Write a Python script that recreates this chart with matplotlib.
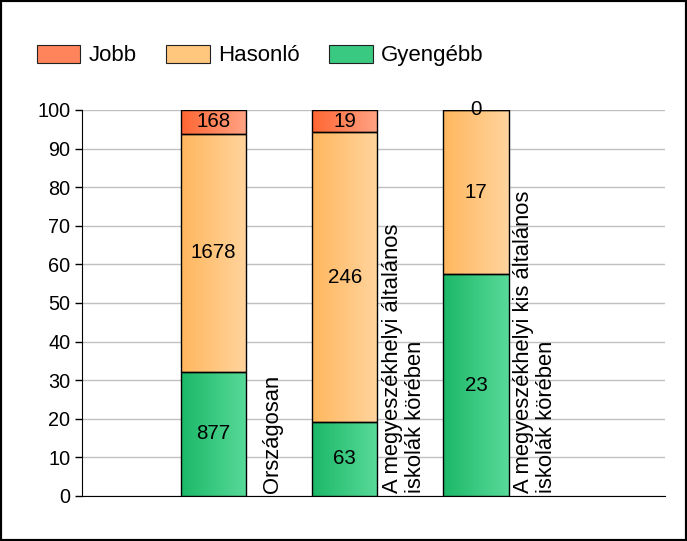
import numpy as np
import matplotlib
matplotlib.use("Agg")
import matplotlib.pyplot as plt
from matplotlib.colors import LinearSegmentedColormap, to_rgb
from matplotlib.patches import Rectangle

plt.rcParams['font.family'] = ['Liberation Sans', 'DejaVu Sans']

# data
categories = ["Országosan",
              "A megyeszékhelyi általános\niskolák körében",
              "A megyeszékhelyi kis általános\niskolák körében"]
series = ["Jobb", "Hasonló", "Gyengébb"]
gyengebb = [877, 63, 23]
hasonlo = [1678, 246, 17]
jobb = [168, 19, 0]

# colors (left -> right gradient)
grad = {
    "Gyengébb": ("#1cb868", "#58da98"),
    "Hasonló": ("#ffb75e", "#ffd49d"),
    "Jobb": ("#ff6633", "#ffa384"),
}

fig = plt.figure(figsize=(6.87, 5.41), dpi=100)
ax = fig.add_axes([0.1194, 0.0832, 0.8486, 0.7135])

x = np.arange(len(categories))
w = 0.5
totals = np.array(gyengebb) + np.array(hasonlo) + np.array(jobb)
stack = [("Gyengébb", gyengebb), ("Hasonló", hasonlo), ("Jobb", jobb)]

g = np.linspace(0, 1, 64).reshape(1, -1)
bottom = np.zeros(len(categories))
for name, vals in stack:
    pct = np.array(vals) / totals * 100
    bars = ax.bar(x, pct, w, bottom=bottom, facecolor="none",
                  edgecolor="black", linewidth=1, zorder=4)
    cmap = LinearSegmentedColormap.from_list(name, grad[name])
    for b, v, p in zip(bars, vals, pct):
        x0, y0 = b.get_x(), b.get_y()
        if p > 0:
            ax.imshow(g, cmap=cmap, aspect="auto", zorder=3,
                      extent=(x0, x0 + b.get_width(), y0, y0 + p))
        ax.text(x0 + b.get_width() / 2, y0 + p / 2, str(v), ha="center",
                va="center", fontsize=14.8, zorder=5)
    bottom += pct

for xi, lab in zip(x, categories):
    ax.text(xi + w / 2 + 0.2, 0.9, lab, rotation=90, ha="center", va="bottom",
            multialignment="left", fontsize=15.8, linespacing=1.1, zorder=5)

ax.set_xlim(-1.0, 3.44)
ax.set_ylim(0, 100)
ax.set_yticks(range(0, 101, 10))
ax.set_xticks([])
ax.tick_params(axis="y", labelsize=14.3, length=5, width=1, direction="out")
ax.yaxis.grid(True, color="#c0c0c0", linewidth=1)
ax.set_axisbelow(True)
for s in ["top", "right"]:
    ax.spines[s].set_visible(False)

# legend
handles = []
for n in series:
    mid = 0.5 * (np.array(to_rgb(grad[n][0])) + np.array(to_rgb(grad[n][1])))
    handles.append(Rectangle((0, 0), 1, 1, facecolor=mid, edgecolor="#222222",
                             linewidth=0.8))
fig.legend(handles, series, loc="center left",
           bbox_to_anchor=(37 / 687, 1 - 55.5 / 541),
           ncol=3, frameon=False, fontsize=16, handlelength=1.95,
           handleheight=0.86, handletextpad=0.36, columnspacing=1.35,
           borderpad=0, borderaxespad=0)

fig.patches.append(Rectangle((0, 0), 1, 1, transform=fig.transFigure,
                             fill=False, edgecolor="black", linewidth=3))

fig.savefig("out.png", dpi=100)
